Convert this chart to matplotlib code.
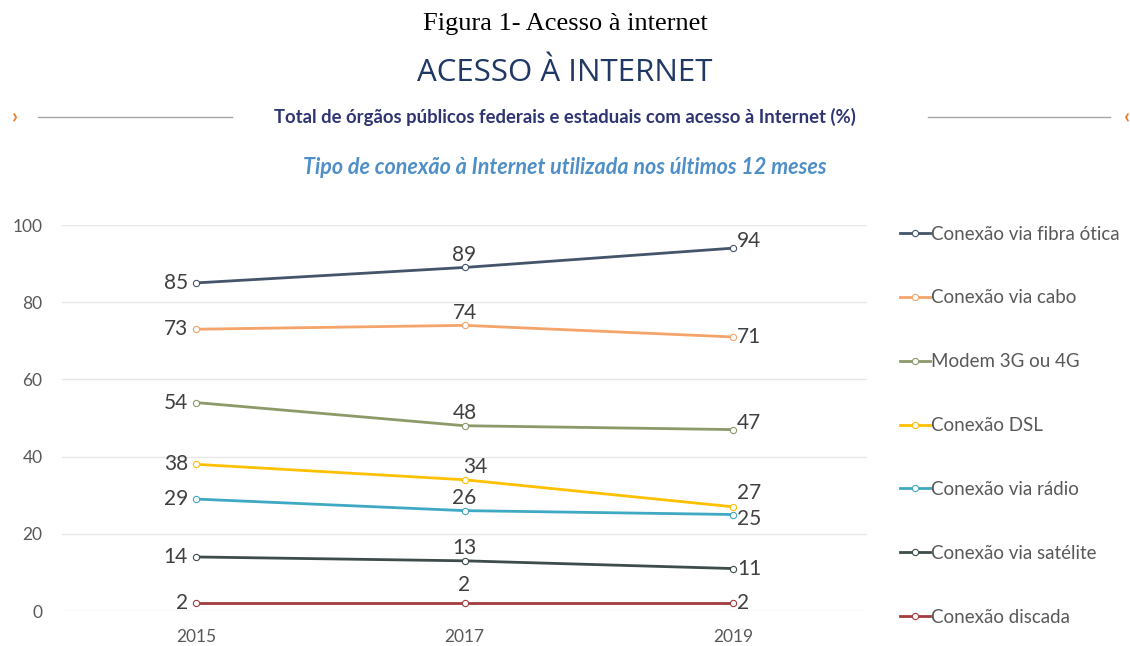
import matplotlib.pyplot as plt

years = ["2015", "2017", "2019"]
series_names = [
    "Conexão via fibra ótica",
    "Conexão via cabo",
    "Modem 3G ou 4G",
    "Conexão DSL",
    "Conexão via rádio",
    "Conexão via satélite",
    "Conexão discada",
]
fibra = [85, 89, 94]
cabo = [73, 74, 71]
modem = [54, 48, 47]
dsl = [38, 34, 27]
radio = [29, 26, 25]
satelite = [14, 13, 11]
discada = [2, 2, 2]
all_values = [fibra, cabo, modem, dsl, radio, satelite, discada]
colors = ["#44546A", "#F4A46A", "#8C9A6A", "#FFC000", "#3FA9C4", "#3E4C4C", "#A33B3F"]

plt.rcParams['font.family'] = ['Lato', 'DejaVu Sans']

fig = plt.figure(figsize=(11.3, 6.46), dpi=100)
ax = fig.add_axes([62 / 1130, 1 - 611 / 646, (867 - 62) / 1130, (611 - 225) / 646])

x = list(range(len(years)))
for name, vals, c in zip(series_names, all_values, colors):
    ax.plot(x, vals, color=c, lw=2, marker="o", ms=4.5, mfc="white", mec=c,
            mew=0.8, label=name)

# data labels: left of 2015, above 2017, right of 2019
nudge = {(3, 2): (0, 10), (4, 2): (0, -3), (3, 1): (8, 0), (0, 2): (0, 5), (2, 2): (0, 5),
         (6, 1): (0, 4)}
for i, vals in enumerate(all_values):
    for j, v in enumerate(vals):
        dx, dy = nudge.get((i, j), (0, 0))
        if j == 0:
            ax.annotate(str(v), (j, v), xytext=(-6 + dx, dy), textcoords="offset points",
                        ha="right", va="center", fontsize=15, color="#404040")
        elif j == 1:
            ax.annotate(str(v), (j, v), xytext=(dx, 9 + dy), textcoords="offset points",
                        ha="center", va="center", fontsize=15, color="#404040")
        else:
            ax.annotate(str(v), (j, v), xytext=(3 + dx, dy), textcoords="offset points",
                        ha="left", va="center", fontsize=15, color="#404040")

ax.set_xlim(-0.5, 2.5)
ax.set_ylim(0, 100)
ax.set_xticks(x)
ax.set_xticklabels(years)
ax.set_yticks([0, 20, 40, 60, 80, 100])
ax.tick_params(length=0, labelsize=12.5, colors="#595959")
ax.tick_params(axis="x", pad=13)
ax.tick_params(axis="y", pad=14)
for s in ax.spines.values():
    s.set_visible(False)
ax.grid(axis="y", color="#E8E8E8", lw=1)
ax.set_axisbelow(True)

ax.legend(loc="upper left", bbox_to_anchor=(892 / 1130, 1 - 218 / 646),
          bbox_transform=fig.transFigure, frameon=False, fontsize=13.5,
          labelcolor="#595959", handlelength=1.6, handletextpad=0.1,
          labelspacing=2.5, borderaxespad=0)

fig.text(0.5, 1 - 24 / 646, "Figura 1- Acesso à internet", ha="center", va="center",
         fontsize=19, family="Liberation Serif", color="black")
fig.text(0.5, 1 - 73 / 646, "ACESSO À INTERNET", ha="center", va="center",
         fontsize=22.5, color="#203864", family="Open Sans")
fig.text(0.5, 1 - 117 / 646, "Total de órgãos públicos federais e estaduais com acesso à Internet (%)",
         ha="center", va="center", fontsize=13.3, fontweight="bold", color="#2F3573")
fig.text(0.5, 1 - 167 / 646, "Tipo de conexão à Internet utilizada nos últimos 12 meses",
         ha="center", va="center", fontsize=15.5, fontstyle="italic", fontweight="bold",
         color="#4F8FC8")
fig.add_artist(plt.Line2D([38 / 1130, 232 / 1130], [1 - 117 / 646] * 2, color="#A6A6A6", lw=1))
fig.add_artist(plt.Line2D([928 / 1130, 1110 / 1130], [1 - 117 / 646] * 2, color="#A6A6A6", lw=1))
fig.text(15 / 1130, 1 - 116 / 646, "›", ha="center", va="center", fontsize=15,
         color="#ED7D31", fontweight="bold")
fig.text(1127 / 1130, 1 - 116 / 646, "‹", ha="center", va="center", fontsize=15,
         color="#ED7D31", fontweight="bold")

fig.savefig("out.png", dpi=100)
